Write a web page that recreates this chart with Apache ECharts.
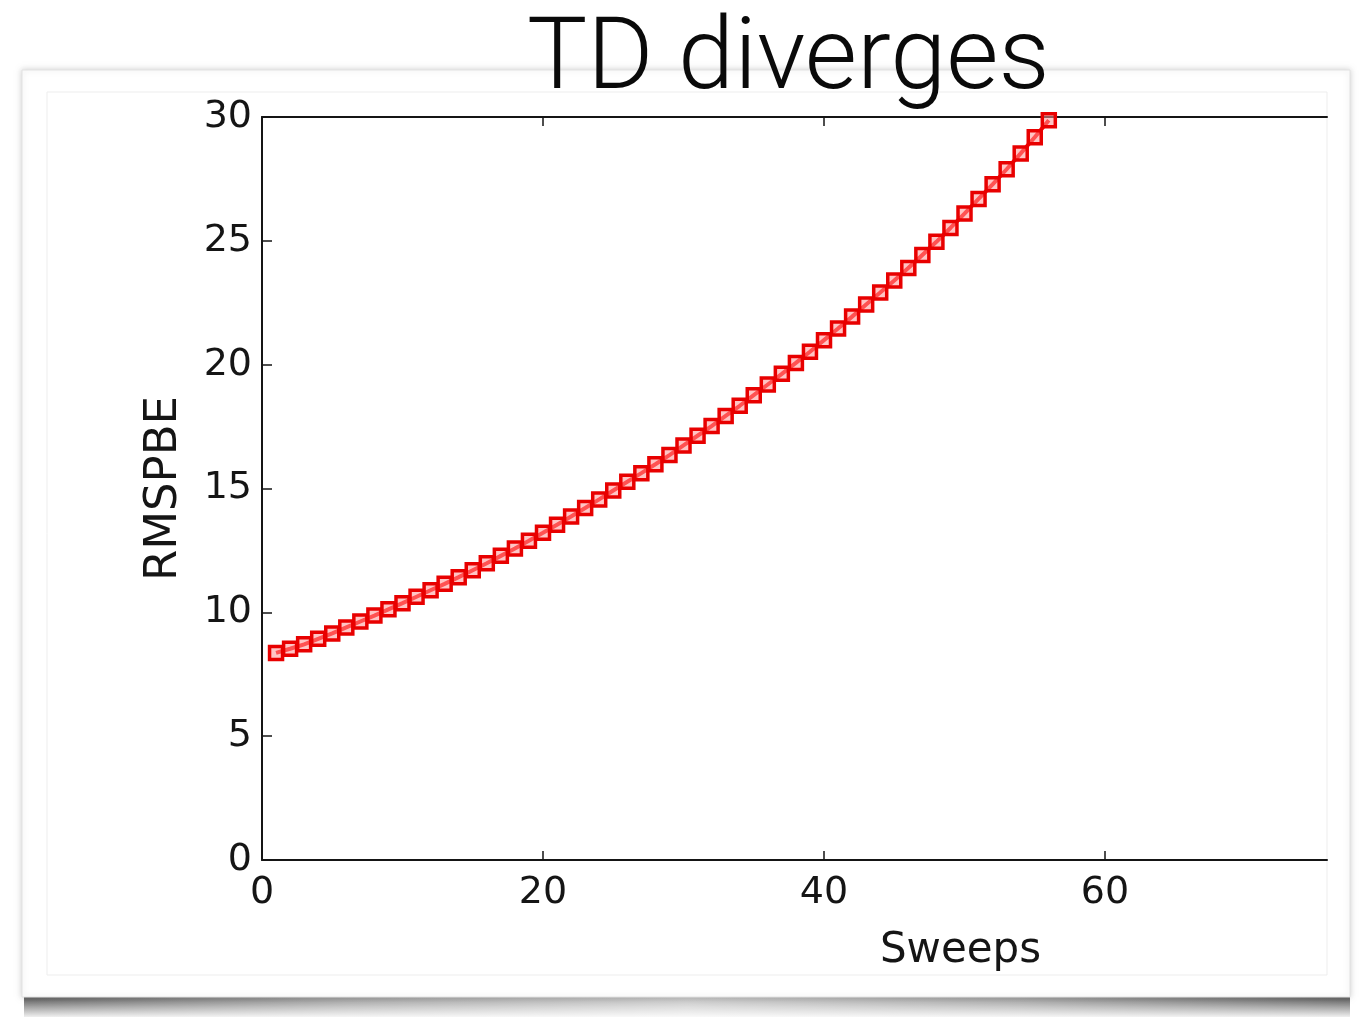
<!DOCTYPE html>
<html>
<head>
<meta charset="utf-8">
<title>TD diverges</title>
<script src="https://cdn.jsdelivr.net/npm/echarts@6/dist/echarts.min.js"></script>
<style>
  html, body { margin: 0; padding: 0; background: #ffffff; }
  #chart { width: 1359px; height: 1018px; }
</style>
</head>
<body>
<div id="chart"></div>
<script>
// Sweep index and RMSPBE error per sweep
const sweeps = [1, 2, 3, 4, 5, 6, 7, 8, 9, 10, 11, 12, 13, 14, 15, 16, 17, 18, 19, 20,
  21, 22, 23, 24, 25, 26, 27, 28, 29, 30, 31, 32, 33, 34, 35, 36, 37, 38, 39, 40,
  41, 42, 43, 44, 45, 46, 47, 48, 49, 50, 51, 52, 53, 54, 55, 56];
const rmspbe = [8.36, 8.53, 8.71, 8.93, 9.15, 9.39, 9.63, 9.87, 10.12, 10.37,
  10.63, 10.89, 11.15, 11.42, 11.70, 11.98, 12.28, 12.58, 12.89, 13.21,
  13.54, 13.87, 14.21, 14.56, 14.92, 15.27, 15.62, 15.98, 16.35, 16.74,
  17.13, 17.52, 17.93, 18.34, 18.77, 19.20, 19.63, 20.07, 20.52, 20.99,
  21.46, 21.94, 22.43, 22.91, 23.40, 23.90, 24.43, 24.96, 25.52, 26.10,
  26.69, 27.28, 27.89, 28.53, 29.18, 29.87];
const xLabelValues = [0, 20, 40, 60];
const xTickValues = [20, 40, 60];

const points = sweeps.map((s, i) => [s, rmspbe[i]]);

const chart = echarts.init(document.getElementById('chart'), null, { renderer: 'canvas' });

const axisFont = 'DejaVu Sans';
const ink = '#151515';

chart.setOption({
  backgroundColor: '#ffffff',
  animation: false,
  title: {
    text: 'TD diverges',
    left: 522,
    top: 7,
    z: 20,
    textStyle: {
      fontFamily: 'Roboto',
      fontWeight: 300,
      fontSize: 101,
      color: '#0a0a0a'
    }
  },
  graphic: [
    // drop shadow under the card
    {
      type: 'rect', z: -20, silent: true,
      shape: { x: 24, y: 990, width: 1326, height: 27 },
      style: {
        fill: new echarts.graphic.LinearGradient(0, 0, 1, 0, [
          { offset: 0, color: '#666666' },
          { offset: 0.25, color: '#a4a4a4' },
          { offset: 0.5, color: '#c8c8c8' },
          { offset: 0.75, color: '#a4a4a4' },
          { offset: 1, color: '#666666' }
        ])
      }
    },
    {
      type: 'rect', z: -19, silent: true,
      shape: { x: 20, y: 990, width: 1334, height: 28 },
      style: {
        fill: new echarts.graphic.LinearGradient(0, 0, 0, 1, [
          { offset: 0, color: 'rgba(255,255,255,0)' },
          { offset: 0.35, color: 'rgba(255,255,255,0.05)' },
          { offset: 1, color: 'rgba(255,255,255,0.95)' }
        ])
      }
    },
    // card
    {
      type: 'rect', z: -10, silent: true,
      shape: { x: 22, y: 70, width: 1328, height: 927 },
      style: {
        fill: '#ffffff',
        stroke: '#e2e2e2',
        lineWidth: 1,
        shadowColor: 'rgba(0,0,0,0.18)',
        shadowBlur: 6,
        shadowOffsetY: 0
      }
    },
    // inner figure frame
    {
      type: 'rect', z: -9, silent: true,
      shape: { x: 47, y: 92, width: 1280, height: 883 },
      style: { fill: '#ffffff', stroke: '#ededed', lineWidth: 1 }
    }
  ],
  grid: {
    left: 262,
    top: 117,
    right: 32,
    bottom: 158,
    containLabel: false
  },
  xAxis: [
    {
      type: 'value',
      min: 0,
      max: 75.8,
      interval: 20,
      position: 'bottom',
      name: 'Sweeps',
      nameLocation: 'middle',
      nameGap: 70,
      nameTextStyle: {
        fontFamily: axisFont,
        fontSize: 42,
        color: ink,
        padding: [0, 0, 0, 332]
      },
      axisLine: { show: true, onZero: false, lineStyle: { color: ink, width: 2 } },
      axisTick: { show: true, inside: true, length: 9, customValues: xTickValues, lineStyle: { color: ink, width: 1.5 } },
      axisLabel: {
        customValues: xLabelValues,
        margin: 14,
        fontFamily: axisFont,
        fontSize: 38,
        color: ink
      },
      splitLine: { show: false }
    },
    {
      type: 'value',
      min: 0,
      max: 75.8,
      interval: 20,
      position: 'top',
      axisLine: { show: true, onZero: false, lineStyle: { color: ink, width: 2 } },
      axisTick: { show: true, inside: true, length: 9, customValues: xTickValues, lineStyle: { color: ink, width: 1.5 } },
      axisLabel: { show: false },
      splitLine: { show: false }
    }
  ],
  yAxis: {
    type: 'value',
    min: 0,
    max: 30,
    interval: 5,
    name: 'RMSPBE',
    nameLocation: 'middle',
    nameGap: 75,
    nameRotate: 90,
    nameTextStyle: {
      fontFamily: axisFont,
      fontSize: 45,
      color: ink
    },
    axisLine: { show: true, onZero: false, lineStyle: { color: ink, width: 2 } },
    axisTick: { show: true, inside: true, length: 10, lineStyle: { color: ink, width: 1.5 } },
    axisLabel: {
      margin: 10,
      fontFamily: axisFont,
      fontSize: 38,
      color: ink
    },
    splitLine: { show: false }
  },
  series: [
    {
      type: 'line',
      data: points,
      xAxisIndex: 0,
      clip: false,
      lineStyle: { color: '#ff0000', width: 4 },
      symbol: 'rect',
      symbolSize: 13,
      itemStyle: {
        color: 'rgba(255,150,150,0.55)',
        borderColor: '#e80000',
        borderWidth: 3.5
      },
      z: 5
    }
  ]
});
</script>
</body>
</html>
